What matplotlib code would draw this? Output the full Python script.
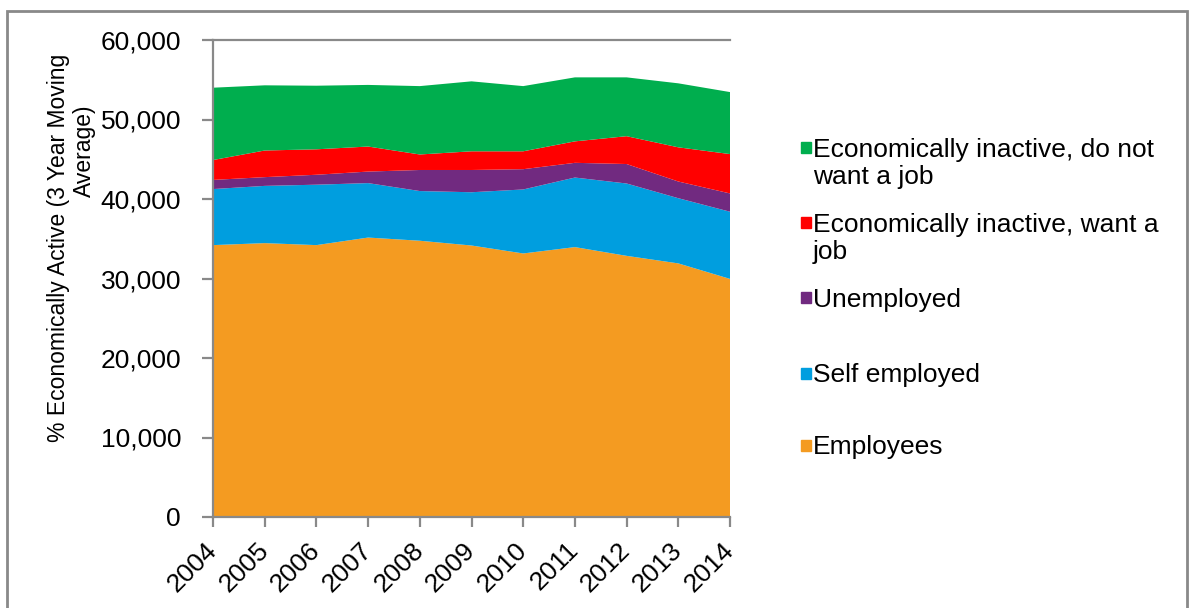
import matplotlib.pyplot as plt
from matplotlib.patches import Rectangle
from matplotlib.ticker import MultipleLocator
from matplotlib.transforms import ScaledTranslation

plt.rcParams['font.family'] = ['Liberation Sans', 'DejaVu Sans']

# Data: 3 year moving averages, stacked
years = [2004, 2005, 2006, 2007, 2008, 2009, 2010, 2011, 2012, 2013, 2014]
employees = [34200, 34450, 34200, 35150, 34750, 34150, 33150, 33950, 32850, 31900, 29950]
self_employed = [7050, 7200, 7600, 6850, 6250, 6700, 8050, 8750, 9100, 8200, 8450]
unemployed = [1150, 1100, 1250, 1450, 2650, 2800, 2550, 1850, 2450, 2100, 2300]
inactive_want = [2500, 3350, 3200, 3150, 1950, 2350, 2250, 2700, 3500, 4300, 4950]
inactive_not_want = [9100, 8200, 8000, 7750, 8600, 8800, 8200, 8050, 7400, 8050, 7800]

series = [employees, self_employed, unemployed, inactive_want, inactive_not_want]
labels = ['Employees', 'Self employed', 'Unemployed',
          'Economically inactive, want a\njob',
          'Economically inactive, do not\nwant a job']
colors = ['#F49B21', '#009EDF', '#712A80', '#FF0000', '#00AE4E']

W, H = 1193, 608
grey = '#898989'

fig = plt.figure(figsize=(W / 100, H / 100), dpi=100)
ax = fig.add_axes([213 / W, (H - 517) / H, (730 - 213) / W, (517 - 40) / H])

ax.stackplot(years, *series, colors=colors, linewidth=0)

ax.set_xlim(2004, 2014)
ax.set_ylim(0, 60000)
ax.yaxis.set_major_locator(MultipleLocator(10000))
ax.yaxis.set_major_formatter('{x:,.0f}')
ax.set_xticks(years)
ax.set_xticklabels([str(y) for y in years], rotation=45, ha='right',
                   va='center', rotation_mode='anchor')
# nudge the rotated year labels a little to the right
shift = ScaledTranslation(5 / 100, 0, fig.dpi_scale_trans)
for lbl in ax.get_xticklabels():
    lbl.set_transform(lbl.get_transform() + shift)

for side in ['left', 'bottom', 'top']:
    ax.spines[side].set_color(grey)
    ax.spines[side].set_linewidth(1.6)
ax.spines['right'].set_visible(False)

ax.tick_params(axis='y', labelsize=19, length=8, width=1.6, color=grey, pad=15)
ax.tick_params(axis='x', labelsize=19, length=7, width=1.6, color=grey, pad=14)

# y axis title, two lines set separately
fig.text(59 / W, 1 - 248 / H, '% Economically Active (3 Year Moving',
         rotation=90, ha='center', va='center', fontsize=16.5)
fig.text(84 / W, 1 - 151 / H, 'Average)',
         rotation=90, ha='center', va='center', fontsize=16.5)

# legend, top entry first
line_gap = 28
legend_y = [147, 222, 297.5, 373, 445]
for y, lab, col in zip(legend_y, labels[::-1], colors[::-1]):
    n_extra = lab.count('\n')
    fig.patches.append(Rectangle((801 / W, 1 - (y + 5.5) / H), 10 / W, 11 / H,
                                 transform=fig.transFigure, color=col,
                                 figure=fig))
    fig.text(813 / W, 1 - (y + 9 + line_gap * n_extra) / H, lab, ha='left',
             va='baseline', fontsize=19, linespacing=1.15)

# outer frame
fig.patches.append(Rectangle((7 / W, -0.02), (1186.5 - 7) / W, (H - 10.5) / H + 0.02,
                             transform=fig.transFigure, fill=False,
                             edgecolor=grey, linewidth=2, figure=fig))

fig.savefig('out.png', dpi=100)
